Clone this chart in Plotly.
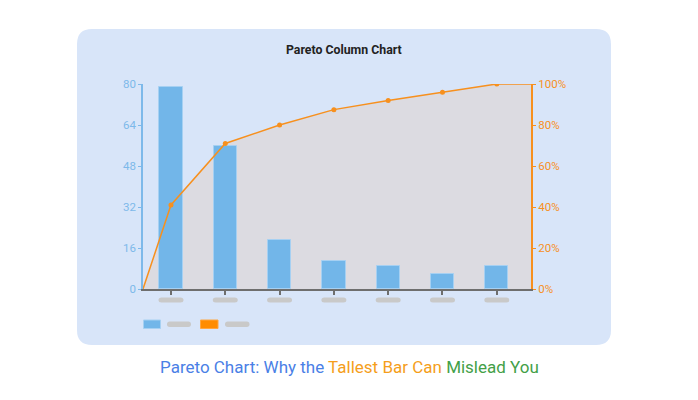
import plotly.graph_objects as go

# ---- data ----
categories = ["A", "B", "C", "D", "E", "F", "G"]
counts = [79, 56, 19, 11, 9, 6, 9]
cum_pct = [41, 71, 80, 87.5, 92, 96, 100]
left_ticks = [0, 16, 32, 48, 64, 80]
right_ticks = [0, 20, 40, 60, 80, 100]
right_labels = ["0%", "20%", "40%", "60%", "80%", "100%"]

W, H = 698, 400
positions = list(range(len(categories)))
X_MIN, X_MAX = -0.515, 6.63

BLUE = "#72b6e9"
BLUE_EDGE = "#a6d0f2"
AXIS_BLUE = "#7db9ea"
ORANGE = "#f7901e"
CARD = "#d8e5f9"
FILL = "#dcdbe1"
PILL = "#c9c9c9"


def px(x):
    return x / W


def py(y):
    return 1 - y / H


fig = go.Figure()

# gray area under cumulative curve (bottom layer)
line_x = [X_MIN] + positions + [X_MAX]
line_y = [0] + cum_pct + [100]
fig.add_trace(go.Scatter(x=line_x, y=line_y, mode="lines", fill="tozeroy",
                         fillcolor=FILL, line=dict(width=0, color=FILL),
                         xaxis="x", yaxis="y", hoverinfo="skip", showlegend=False))

# bars
fig.add_trace(go.Bar(x=positions, y=counts, width=0.43,
                     marker=dict(color=BLUE, line=dict(color=BLUE_EDGE, width=1)),
                     xaxis="x", yaxis="y2", showlegend=False))

# cumulative line
fig.add_trace(go.Scatter(x=line_x, y=line_y, mode="lines",
                         line=dict(color=ORANGE, width=1.5),
                         xaxis="x", yaxis="y3", showlegend=False, hoverinfo="skip"))
fig.add_trace(go.Scatter(x=positions, y=cum_pct, mode="markers",
                         marker=dict(color=ORANGE, size=5, line=dict(width=0)),
                         xaxis="x", yaxis="y3", showlegend=False))

shapes = []


def rounded(x0, y0, x1, y1, r):
    # pixel-space rounded rectangle converted to paper coords
    return dict(type="path", xref="paper", yref="paper",
                path=(f"M {px(x0+r)},{py(y0)} L {px(x1-r)},{py(y0)} "
                      f"Q {px(x1)},{py(y0)} {px(x1)},{py(y0+r)} "
                      f"L {px(x1)},{py(y1-r)} Q {px(x1)},{py(y1)} {px(x1-r)},{py(y1)} "
                      f"L {px(x0+r)},{py(y1)} Q {px(x0)},{py(y1)} {px(x0)},{py(y1-r)} "
                      f"L {px(x0)},{py(y0+r)} Q {px(x0)},{py(y0)} {px(x0+r)},{py(y0)} Z"),
                line=dict(width=0), layer="below")


card = rounded(77, 29, 611, 345, 15)
card["fillcolor"] = CARD
shapes.append(card)

# placeholder tick-label pills under each category (data x, paper y)
unit = (531 - 143) / (X_MAX - X_MIN)  # px per category unit
hw = 12.5 / unit
r = 3 / unit
y0p, y1p, ymp = py(297.5), py(302.5), py(300)
for p in positions:
    x0, x1 = p - hw, p + hw
    shapes.append(dict(type="path", xref="x", yref="paper",
                       path=(f"M {x0+r},{y0p} L {x1-r},{y0p} Q {x1},{y0p} {x1},{ymp} "
                             f"Q {x1},{y1p} {x1-r},{y1p} L {x0+r},{y1p} "
                             f"Q {x0},{y1p} {x0},{ymp} Q {x0},{y0p} {x0+r},{y0p} Z"),
                       fillcolor=PILL, line=dict(width=0), layer="above"))

# legend placeholders
shapes.append(dict(type="rect", xref="paper", yref="paper",
                   x0=px(143.5), x1=px(160.5), y0=py(320), y1=py(328.5),
                   fillcolor=BLUE, line=dict(color=BLUE_EDGE, width=1)))
shapes.append(dict(type="rect", xref="paper", yref="paper",
                   x0=px(200.5), x1=px(218), y0=py(320), y1=py(328.5),
                   fillcolor="#ff8c00", line=dict(color="#ffa640", width=1)))
for a, b in [(167, 191), (225, 249.5)]:
    pill = rounded(a, 321.5, b, 327, 2.7)
    pill["fillcolor"] = PILL
    pill["layer"] = "above"
    shapes.append(pill)

annotations = [
    dict(text="<b>Pareto Column Chart</b>", xref="paper", yref="paper",
         x=px(344), y=py(50), xanchor="center", yanchor="middle", showarrow=False,
         font=dict(family="Roboto", size=12.3, color="#222222")),
    dict(text=("<span style='color:#4a80e6'>Pareto Chart: Why the</span> "
               "<span style='color:#f59e1b'>Tallest Bar Can</span> "
               "<span style='color:#43a047'>Mislead You</span>"),
         xref="paper", yref="paper", x=px(349), y=py(367),
         xanchor="center", yanchor="middle", showarrow=False,
         font=dict(family="Roboto", size=17)),
]

fig.update_layout(
    width=W, height=H, autosize=False,
    margin=dict(l=0, r=0, t=0, b=0),
    paper_bgcolor="white", plot_bgcolor="rgba(0,0,0,0)",
    showlegend=False, bargap=0,
    shapes=shapes, annotations=annotations,
    font=dict(family="Roboto"),
    xaxis=dict(domain=[px(143), px(531)], range=[X_MIN, X_MAX], anchor="y",
               tickvals=positions, ticktext=[""] * len(positions),
               ticks="outside", ticklen=4, tickwidth=1.5, tickcolor="#6e6e6e",
               showline=True, linecolor="#6e6e6e", linewidth=2,
               showgrid=False, zeroline=False, fixedrange=True),
    yaxis=dict(domain=[py(289), py(84)], range=[0, 100], side="right", anchor="x",
               tickvals=right_ticks, ticktext=right_labels,
               tickfont=dict(color=ORANGE, size=11.5, family="Roboto"),
               ticks="outside", ticklen=3, tickcolor=ORANGE,
               showline=True, linecolor=ORANGE, linewidth=2,
               showgrid=False, zeroline=False, automargin=False),
    yaxis2=dict(range=[0, 80], overlaying="y", side="left", anchor="x",
                tickvals=left_ticks, ticktext=[str(v) for v in left_ticks],
                tickfont=dict(color=AXIS_BLUE, size=11.5, family="Roboto"),
                ticks="outside", ticklen=3, tickcolor=AXIS_BLUE,
                showline=True, linecolor=AXIS_BLUE, linewidth=1.5,
                showgrid=False, zeroline=False, automargin=False),
    yaxis3=dict(range=[0, 100], overlaying="y", visible=False, anchor="x"),
)

fig.write_html("out.html")
